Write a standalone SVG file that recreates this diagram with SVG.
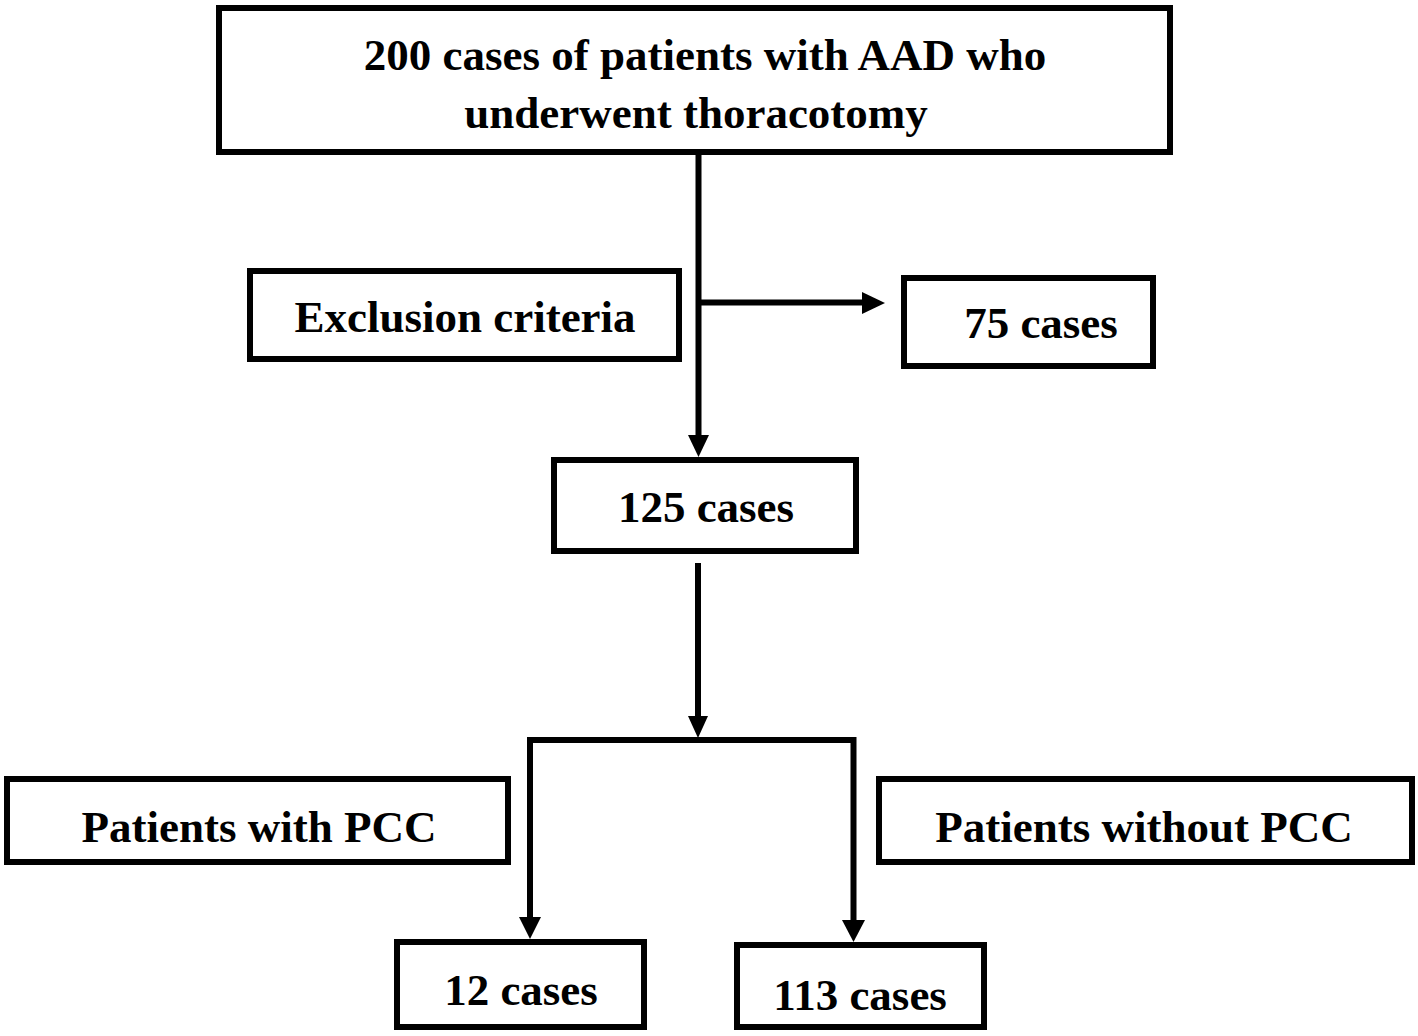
<svg xmlns="http://www.w3.org/2000/svg" width="1418" height="1036" viewBox="0 0 1418 1036">
<style>
.box{fill:#fff;stroke:#000;stroke-width:6}
.t{font-family:"Liberation Serif","Times New Roman",serif;font-weight:bold;font-size:45px;fill:#000;text-anchor:middle}
.ln{stroke:#000;stroke-width:6;fill:none}
.ah{fill:#000}
</style>
<rect width="1418" height="1036" fill="#fff"/>
<g id="connectors">
<line class="ln" x1="698.5" y1="152" x2="698.5" y2="437"/>
<polygon class="ah" points="688,435 709,435 698.5,457"/>
<line class="ln" x1="698" y1="302.5" x2="864" y2="302.5"/>
<polygon class="ah" points="862,292 862,314 885,303"/>
<line class="ln" x1="698" y1="563" x2="698" y2="718"/>
<polygon class="ah" points="688,716 708,716 698,738"/>
<polyline class="ln" points="530,920 530,740 853.5,740 853.5,922"/>
<polygon class="ah" points="519,917 541,917 530,939"/>
<polygon class="ah" points="842,920 865,920 853.5,942"/>
</g>
<g id="n_top">
<rect class="box" x="219" y="8" width="951" height="144"/>
<text class="t" x="705" y="70">200 cases of patients with AAD who</text>
<text class="t" x="696" y="128">underwent thoracotomy</text>
</g>
<g id="n_excl">
<rect class="box" x="250" y="271" width="429" height="88"/>
<text class="t" x="465" y="332">Exclusion criteria</text>
</g>
<g id="n_75">
<rect class="box" x="904" y="278" width="249" height="88"/>
<text class="t" x="1041" y="338">75 cases</text>
</g>
<g id="n_125">
<rect class="box" x="554" y="460" width="302" height="91"/>
<text class="t" x="706" y="522">125 cases</text>
</g>
<g id="n_pcc">
<rect class="box" x="7" y="779" width="501" height="83"/>
<text class="t" x="259" y="842">Patients with PCC</text>
</g>
<g id="n_nopcc">
<rect class="box" x="879" y="779" width="533" height="83"/>
<text class="t" x="1144" y="842">Patients without PCC</text>
</g>
<g id="n_12">
<rect class="box" x="397" y="942" width="247" height="85"/>
<text class="t" x="521" y="1005">12 cases</text>
</g>
<g id="n_113">
<rect class="box" x="737" y="945" width="247" height="82"/>
<text class="t" x="860" y="1010">113 cases</text>
</g>
</svg>
